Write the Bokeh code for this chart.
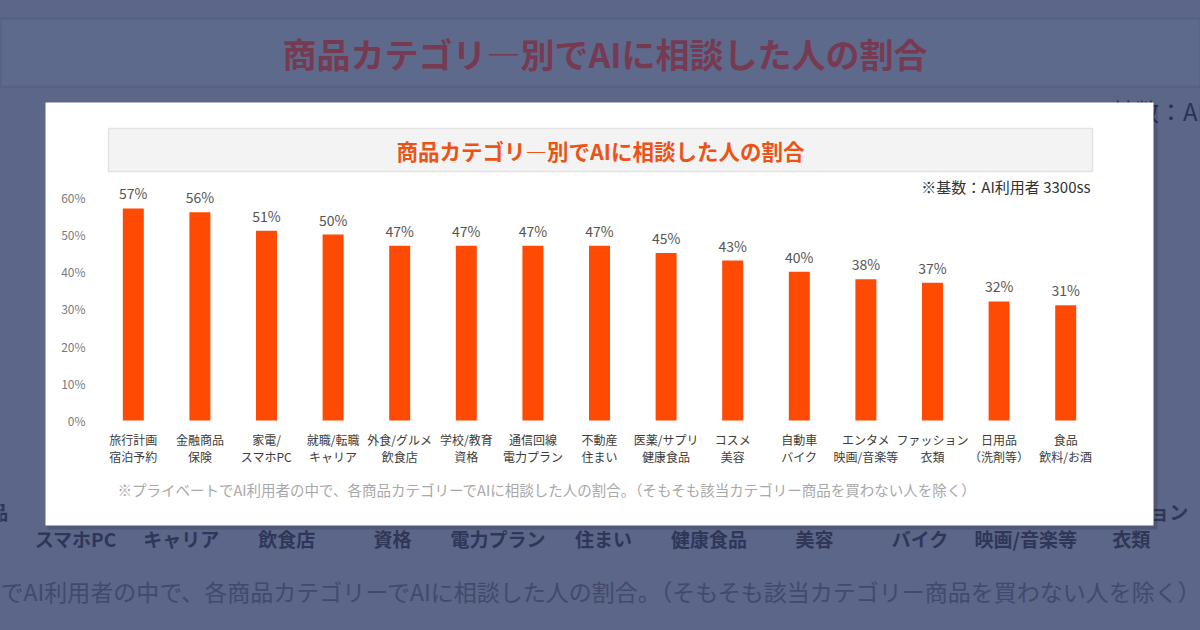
from bokeh.plotting import figure
from bokeh.models import Range1d, ColumnDataSource
from bokeh.core.properties import value
from bokeh.embed import file_html
from bokeh.resources import INLINE

# chart data
cat_top = ["旅行計画", "金融商品", "家電/", "就職/転職", "外食/グルメ", "学校/教育", "通信回線",
           "不動産", "医薬/サプリ", "コスメ", "自動車", "エンタメ", "ファッション", "日用品", "食品"]
cat_bottom = ["宿泊予約", "保険", "スマホPC", "キャリア", "飲食店", "資格", "電力プラン",
              "住まい", "健康食品", "美容", "バイク", "映画/音楽等", "衣類", "（洗剤等）", "飲料/お酒"]
rates = [57, 56, 51, 50, 47, 47, 47, 47, 45, 43, 40, 38, 37, 32, 31]
y_ticks = [0, 10, 20, 30, 40, 50, 60]

title_text = "商品カテゴリ―別でAIに相談した人の割合"
base_note = "※基数：AI利用者 3300ss"
foot_note = "※プライベートでAI利用者の中で、各商品カテゴリーでAIに相談した人の割合。（そもそも該当カテゴリー商品を買わない人を除く）"

FONT = value("Noto Sans CJK JP")
BG = "#5b6688"
BAR = "#fe4a02"
W, H = 1200, 630

src = ColumnDataSource(data=dict(
    idx=list(range(len(rates))), rate=rates, label=[f"{r}%" for r in rates],
    top=cat_top, bottom=cat_bottom))
tick_src = ColumnDataSource(data=dict(y=y_ticks, label=[f"{t}%" for t in y_ticks]))

# pixel coords, y pointing down, so positions match the screenshot
p = figure(width=W, height=H, x_range=Range1d(0, W), y_range=Range1d(H, 0),
           output_backend="svg", toolbar_location=None, min_border=0,
           x_axis_location=None, y_axis_location=None)
p.grid.visible = False
p.outline_line_color = None
p.background_fill_color = BG
p.border_fill_color = BG

# bar chart ranges: 0% at y=420, 37.2px per 10%; first bar at x=132.8, 66.6px apart
BASE, PX10 = 420, 37.2
FIRST, STEP = 132.8, 66.6
# the dimmed background copy is the same chart enlarged ~1.585x
S, CX, CY, BCX = 1.585, 599, 316, 603
x0 = -FIRST / STEP
x0_bg = 7 - BCX / (STEP * S)
p.extra_y_ranges = {"pct": Range1d(-(H - BASE) / PX10 * 10, BASE / PX10 * 10)}
p.extra_x_ranges = {
    "idx": Range1d(x0, x0 + W / STEP),
    "idx_bg": Range1d(x0_bg, x0_bg + W / (STEP * S)),
}

def bgx(x):
    return BCX + S * (x - CX)
def bgy(y):
    return CY + S * (y - CY)

# ---- blurred background copy ----
p.quad(left=[0], right=[W], top=[bgy(128)], bottom=[bgy(171)],
       fill_color="#5e6a8b", line_color="#56617f", line_width=2)
p.text(x=[bgx(600)], y=[bgy(150)], text=[title_text], text_font=FONT,
       text_font_size="34px", text_font_style="bold", text_color="#763a52",
       text_align="center", text_baseline="middle")
p.text(x=[bgx(1090) - 24], y=[bgy(186)], text=[base_note], text_font=FONT,
       text_font_size="24px", text_color="#2b3252",
       text_align="right", text_baseline="middle")
p.text(x="idx", y=bgy(439), text="top", source=src, x_range_name="idx_bg",
       text_font=FONT, text_font_size="19px", text_font_style="bold",
       text_color="#2f3658", text_align="center", text_baseline="middle")
p.text(x="idx", y=bgy(456), text="bottom", source=src, x_range_name="idx_bg",
       text_font=FONT, text_font_size="19px", text_font_style="bold",
       text_color="#2f3658", text_align="center", text_baseline="middle")
p.text(x=[bgx(117)], y=[bgy(489)], text=[foot_note], text_font=FONT,
       text_font_size="23px", text_color="#414a6d",
       text_align="left", text_baseline="middle")

# ---- white card ----
p.quad(left=[47], right=[1157], top=[104], bottom=[529], fill_color="black",
       fill_alpha=0.12, line_color=None)
p.quad(left=[45], right=[1153], top=[102], bottom=[525], fill_color="white",
       line_color=None)

# title box
p.quad(left=[108], right=[1092], top=[128], bottom=[171], fill_color="#f3f3f3",
       line_color="#e3e3e3", line_width=1.5)
p.text(x=[600], y=[150], text=[title_text], text_font=FONT, text_font_size="21.5px",
       text_font_style="bold", text_color="#ec5316",
       text_align="center", text_baseline="middle")
p.text(x=[1090], y=[186], text=[base_note], text_font=FONT, text_font_size="15px",
       text_color="#333333", text_align="right", text_baseline="middle")

# y tick labels
p.text(x=85, y="y", text="label", source=tick_src, y_range_name="pct",
       text_font=FONT, text_font_size="12px", text_color="#7a7a7a",
       text_align="right", text_baseline="middle")

# bars and value labels
p.vbar(x="idx", top="rate", bottom=0, width=0.315, source=src,
       x_range_name="idx", y_range_name="pct", fill_color=BAR, line_color=None)
p.text(x="idx", y="rate", text="label", source=src, x_range_name="idx",
       y_range_name="pct", y_offset=-5, text_font=FONT, text_font_size="14px",
       text_color="#555555", text_align="center", text_baseline="bottom")

# category labels (two lines)
p.text(x="idx", y=439, text="top", source=src, x_range_name="idx",
       text_font=FONT, text_font_size="12px", text_color="#3c3c3c",
       text_align="center", text_baseline="middle")
p.text(x="idx", y=456, text="bottom", source=src, x_range_name="idx",
       text_font=FONT, text_font_size="12px", text_color="#3c3c3c",
       text_align="center", text_baseline="middle")

p.text(x=[117], y=[489], text=[foot_note], text_font=FONT, text_font_size="14.5px",
       text_color="#a8a8a8", text_align="left", text_baseline="middle")

html = file_html(p, INLINE, title="商品カテゴリー別でAIに相談した人の割合")
html = html.replace("<head>", "<head><style>body{margin:0;background:%s;overflow:hidden;}</style>" % BG, 1)
open("out.html", "w").write(html)
